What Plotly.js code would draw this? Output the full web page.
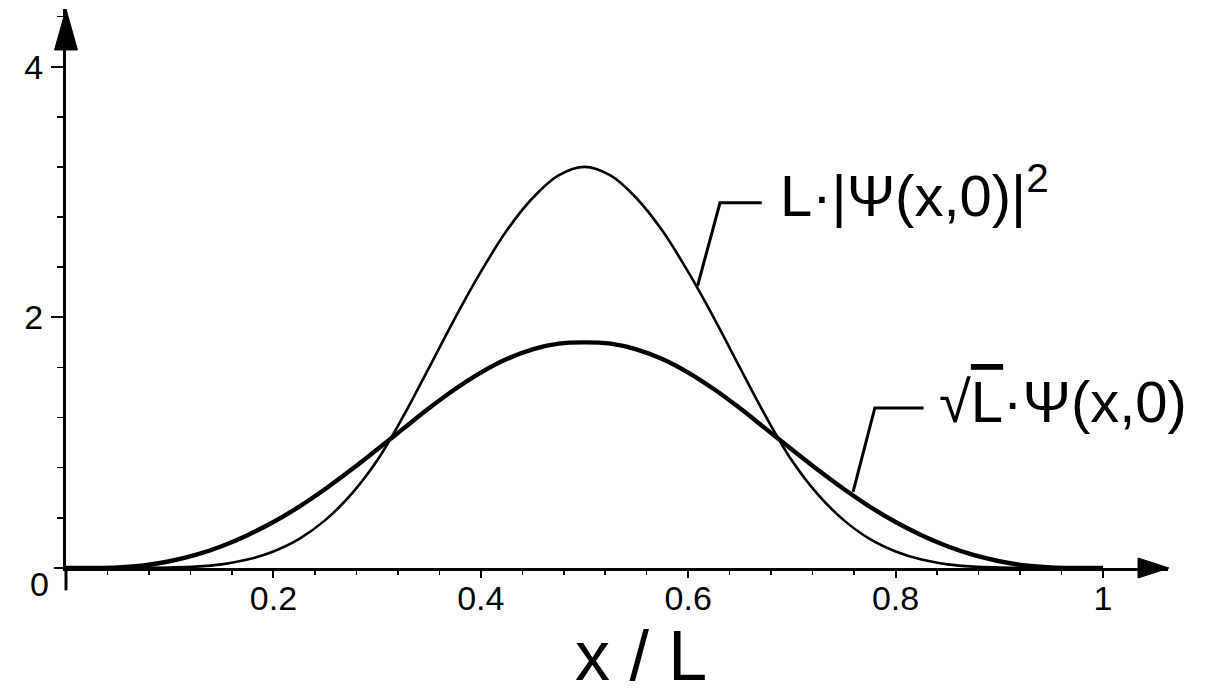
<!DOCTYPE html>
<html>
<head>
<meta charset="utf-8">
<script src="https://cdn.plot.ly/plotly-3.0.1.min.js"></script>
<style>html,body{margin:0;padding:0;background:#fff;}</style>
</head>
<body>
<div id="chart" style="width:1232px;height:694px;"></div>
<script>
// x / L sample positions
var xPos = [0, 0.025, 0.05, 0.075, 0.1, 0.125, 0.15, 0.175, 0.2, 0.225, 0.25, 0.275, 0.3, 0.325, 0.35, 0.375, 0.4, 0.425, 0.45, 0.475, 0.5,
            0.525, 0.55, 0.575, 0.6, 0.625, 0.65, 0.675, 0.7, 0.725, 0.75, 0.775, 0.8, 0.825, 0.85, 0.875, 0.9, 0.925, 0.95, 0.975, 1];
// sqrt(L)·Psi(x,0)
var psiValues = [0, 0.0005, 0.0045, 0.02, 0.054, 0.104, 0.174, 0.262, 0.367, 0.49, 0.63, 0.783, 0.945, 1.11, 1.274, 1.426, 1.559, 1.667, 1.745, 1.79, 1.80,
                 1.79, 1.745, 1.667, 1.559, 1.426, 1.274, 1.11, 0.945, 0.783, 0.63, 0.49, 0.367, 0.262, 0.174, 0.104, 0.054, 0.02, 0.0045, 0.0005, 0];
// L·|Psi(x,0)|^2
var probValues = [0, 0, 0.0003, 0.0013, 0.0043, 0.011, 0.029, 0.067, 0.132, 0.232, 0.382, 0.587, 0.857, 1.207, 1.597, 1.992, 2.362, 2.692, 2.952, 3.132, 3.20,
                  3.132, 2.952, 2.692, 2.362, 1.992, 1.597, 1.207, 0.857, 0.587, 0.382, 0.232, 0.132, 0.067, 0.029, 0.011, 0.0043, 0.0013, 0.0003, 0, 0];
var xTickVals = [0.2, 0.4, 0.6, 0.8, 1];
var xTickText = ['0.2', '0.4', '0.6', '0.8', '1'];
var yTickVals = [2, 4];
var yTickText = ['2', '4'];

var tickFont = {family: 'Liberation Sans, Arial, sans-serif', size: 34, color: '#000'};
var handFont = {family: 'Liberation Sans, Arial, sans-serif', size: 58, color: '#000'};

var traces = [
  {x: xPos, y: probValues, type: 'scatter', mode: 'lines',
   line: {color: '#000', width: 2.6, shape: 'spline', smoothing: 1}, hoverinfo: 'skip'},
  {x: xPos, y: psiValues, type: 'scatter', mode: 'lines',
   line: {color: '#000', width: 4.4, shape: 'spline', smoothing: 1}, hoverinfo: 'skip'}
];

var layout = {
  width: 1232, height: 694,
  margin: {l: 66, r: 64, t: 9, b: 126},
  paper_bgcolor: '#fff', plot_bgcolor: '#fff',
  showlegend: false,
  xaxis: {
    range: [0, 1.0627], showgrid: false, zeroline: false,
    showline: true, linecolor: '#000', linewidth: 3,
    tickmode: 'array', tickvals: xTickVals, ticktext: xTickText,
    ticks: 'outside', ticklen: 7, tickwidth: 2, tickcolor: '#000',
    minor: {tickmode: 'linear', tick0: 0, dtick: 0.04, ticks: 'outside', ticklen: 4, tickwidth: 1.5, tickcolor: '#000', showgrid: false},
    tickfont: tickFont, ticklabelstandoff: -9
  },
  yaxis: {
    range: [0, 4.46], showgrid: false, zeroline: false,
    showline: true, linecolor: '#000', linewidth: 3,
    tickmode: 'array', tickvals: yTickVals, ticktext: yTickText,
    ticks: 'outside', ticklen: 12, tickwidth: 2, tickcolor: '#000',
    minor: {tickmode: 'linear', tick0: 0, dtick: 0.4, ticks: 'outside', ticklen: 6, tickwidth: 1.5, tickcolor: '#000', showgrid: false},
    tickfont: tickFont, ticklabelstandoff: 1
  },
  shapes: [
    // y-axis extension below the x-axis
    {type: 'line', xref: 'paper', yref: 'paper', x0: 0, x1: 0, y0: 0, y1: -0.04, line: {color: '#000', width: 3}},
    // major tick at y = 0
    {type: 'line', xref: 'paper', yref: 'paper', x0: -0.0109, x1: 0, y0: 0, y1: 0, line: {color: '#000', width: 2}},
    // arrowheads
    {type: 'path', xref: 'paper', yref: 'paper', path: 'M -0.0104,0.9267 L 0,1.0 L 0.0104,0.9267 Z',
     fillcolor: '#000', line: {color: '#000', width: 1}},
    {type: 'path', xref: 'paper', yref: 'paper', path: 'M 0.9728,-0.0179 L 1.0009,0 L 0.9728,0.0179 Z',
     fillcolor: '#000', line: {color: '#000', width: 1}},
    // leader lines
    {type: 'path', xref: 'x', yref: 'y', path: 'M 0.609,2.25 L 0.6307,2.914 L 0.671,2.914',
     line: {color: '#000', width: 3}},
    {type: 'path', xref: 'x', yref: 'y', path: 'M 0.759,0.607 L 0.780,1.277 L 0.827,1.277',
     line: {color: '#000', width: 3}}
  ],
  annotations: [
    {xref: 'x', yref: 'y', x: 0.6866, y: 3.0, xanchor: 'left', yanchor: 'middle', showarrow: false,
     text: 'L·|Ψ(x,0)|<sup>2</sup>', font: handFont},
    {xref: 'x', yref: 'y', x: 0.840, y: 1.33, xanchor: 'left', yanchor: 'middle', showarrow: false,
     text: '√<span style="text-decoration:overline">L</span>·Ψ(x,0)', font: handFont},
    {xref: 'paper', yref: 'paper', x: -0.0245, y: -0.0286, xanchor: 'center', yanchor: 'middle', showarrow: false,
     text: '0', font: tickFont},
    {xref: 'paper', yref: 'paper', x: 0.5218, y: -0.158, xanchor: 'center', yanchor: 'middle', showarrow: false,
     text: 'x / L', font: {family: 'Liberation Sans, Arial, sans-serif', size: 70, color: '#000'}}
  ]
};

Plotly.newPlot('chart', traces, layout, {displayModeBar: false, staticPlot: true});
</script>
</body>
</html>
